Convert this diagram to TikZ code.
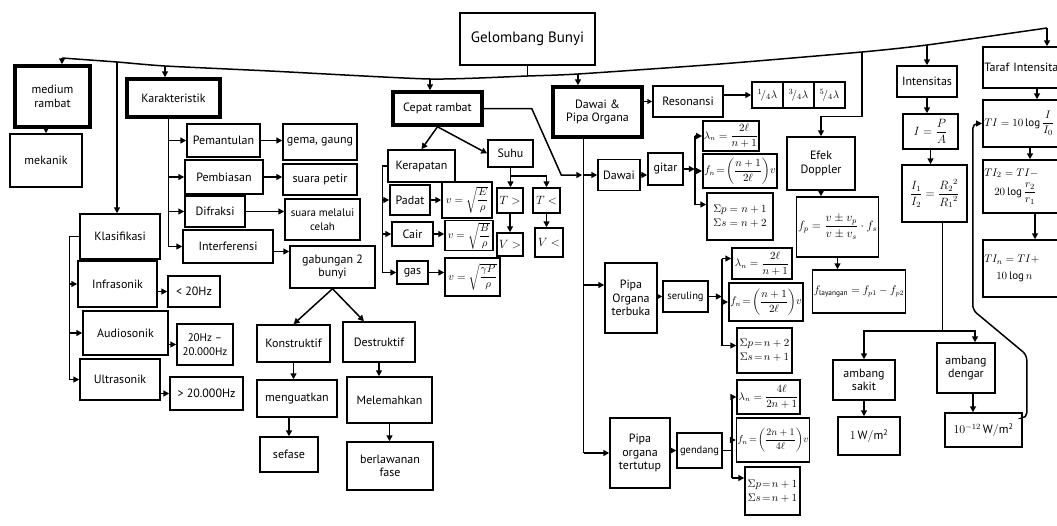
\documentclass[tikz,border=0pt]{standalone}
\usepackage{amsmath}
\usepackage{fontspec}
\setmainfont{PT Sans}
\usetikzlibrary{arrows.meta,calc}
\begin{document}
\begin{tikzpicture}[x=1pt,y=-1pt,
  box/.style={draw, line width=1.5pt, inner sep=1.5pt, align=center, font=\fontsize{12}{13.5}\selectfont},
  tbox/.style={box, line width=3.5pt},
  mbox/.style={box, font=\fontsize{11}{14}\selectfont},
  sbox/.style={box, font=\fontsize{10.5}{13}\selectfont},
  lbox/.style={mbox, anchor=west, text width=86, align=left},
  line/.style={line width=1.5pt},
  arr/.style={line width=1.5pt, -{Triangle[length=6pt,width=6pt]}},
  oarr/.style={line width=1.5pt, -{Triangle[open,length=5pt,width=5pt]}}
]
\useasboundingbox (0,0) rectangle (1057,525);
\fill[white] (0,0) rectangle (1057,525);
\clip (0,0) rectangle (1057,525);

% ---------- nodes ----------
\node[box, minimum width=135, minimum height=52, font=\fontsize{15}{17}\selectfont] (gb) at (527.5,39) {Gelombang Bunyi};

\node[tbox, minimum width=75, minimum height=61] (medium) at (52.5,96.5) {medium\\rambat};
\node[box, minimum width=72, minimum height=53] (mekanik) at (46,160.5) {mekanik};

\node[tbox, minimum width=93, minimum height=38] (karak) at (173.5,98) {Karakteristik};
\node[box, minimum width=73, minimum height=33] (pemantulan) at (223.5,140.5) {Pemantulan};
\node[box, minimum width=78, minimum height=34] (pembiasan) at (224,177) {Pembiasan};
\node[box, minimum width=60, minimum height=31] (difraksi) at (215,211.5) {Difraksi};
\node[box, minimum width=90, minimum height=33] (interf) at (228,246.5) {Interferensi};
\node[box, minimum width=74, minimum height=36] (gema) at (320,142) {gema, gaung};
\node[box, minimum width=74, minimum height=31] (petir) at (320,179.5) {suara petir};
\node[mbox, minimum width=75, minimum height=41] (celah) at (322.5,219.5) {suara melalui\\celah};
\node[box, minimum width=85, minimum height=42] (gabungan) at (332.5,267) {gabungan 2\\bunyi};
\node[box, minimum width=73, minimum height=37] (konstruktif) at (293.5,343.5) {Konstruktif};
\node[box, minimum width=72, minimum height=40] (destruktif) at (379,342) {Destruktif};
\node[box, minimum width=80, minimum height=37] (menguatkan) at (297,398.5) {menguatkan};
\node[box, minimum width=85, minimum height=46] (melemahkan) at (389.5,400) {Melemahkan};
\node[box, minimum width=58, minimum height=35] (sefase) at (289,454.5) {sefase};
\node[box, minimum width=86, minimum height=48] (berlawanan) at (390,466) {berlawanan\\fase};

\node[box, minimum width=80, minimum height=45] (klas) at (120,236.5) {Klasifikasi};
\node[box, minimum width=79, minimum height=46] (infra) at (117.5,284) {Infrasonik};
\node[box, minimum width=85, minimum height=44] (audio) at (125.5,333) {Audiosonik};
\node[box, minimum width=80, minimum height=41] (ultra) at (120,379.5) {Ultrasonik};
\node[box, minimum width=52, minimum height=31] (lt) at (194,291.5) {< 20Hz};
\node[mbox, minimum width=56, minimum height=41] (aud) at (205,344.5) {20Hz --\\20.000Hz};
\node[box, minimum width=73, minimum height=33] (gt) at (206.5,393.5) {> 20.000Hz};

\node[tbox, minimum width=89, minimum height=33] (cepat) at (437.5,108.5) {Cepat rambat};
\node[box, minimum width=67, minimum height=32] (kerapatan) at (421.5,166) {Kerapatan};
\node[box, minimum width=45, minimum height=27] (suhu) at (510.5,153.5) {Suhu};
\node[box, minimum width=40, minimum height=30] (padat) at (410,200) {Padat};
\node[box, minimum width=41, minimum height=24] (cair) at (412.5,234) {Cair};
\node[box, minimum width=31, minimum height=23] (gas) at (412.5,272.5) {gas};
\node[mbox, minimum width=50, minimum height=36] (vpadat) at (467,200) {$v=\sqrt{\dfrac{E}{\rho}}$};
\node[mbox, minimum width=48, minimum height=29] (vcair) at (469,235.5) {$v=\sqrt{\dfrac{B}{\rho}}$};
\node[mbox, minimum width=55, minimum height=38] (vgas) at (472.5,277) {$v=\sqrt{\dfrac{\gamma P}{\rho}}$};
\node[box, minimum width=26, minimum height=25] (tgt) at (510,200.5) {$T>$};
\node[box, minimum width=27, minimum height=25] (tlt) at (546.5,200.5) {$T<$};
\node[box, minimum width=26, minimum height=23] (vgt) at (510,244.5) {$V>$};
\node[box, minimum width=28, minimum height=29] (vlt) at (549,242.5) {$V<$};

\node[tbox, minimum width=89, minimum height=50] (dpo) at (597.5,112) {Dawai \&\\Pipa Organa};
\node[box, minimum width=70, minimum height=31] (reson) at (688,101.5) {Resonansi};
\node[mbox, minimum width=31, minimum height=26, inner sep=0pt] (q1) at (767.5,95) {$^{1}\!/_{4}\lambda$};
\node[mbox, minimum width=31, minimum height=26, inner sep=0pt] (q2) at (798.5,95) {$^{3}\!/_{4}\lambda$};
\node[mbox, minimum width=31, minimum height=26, inner sep=0pt] (q3) at (829.5,95) {$^{5}\!/_{4}\lambda$};

\node[box, minimum width=42, minimum height=31] (dawai) at (619,175) {Dawai};
\node[box, minimum width=35, minimum height=32] (gitar) at (665.5,169) {gitar};
\node[sbox, minimum width=52, minimum height=30, inner sep=1pt] (dl1) at (731,136) {$\lambda_n=\dfrac{2\ell}{n+1}$};
\node[sbox, minimum width=66, minimum height=34] (df1) at (740,171) {$f_n\!=\!\left(\dfrac{n+1}{2\ell}\right)\!v$};
\node[mbox, minimum width=66, minimum height=47] (ds1) at (740,216.5) {$\Sigma p=n+1$\\$\Sigma s=n+2$};

\node[box, minimum width=52, minimum height=70] (pot) at (631,298) {Pipa\\Organa\\terbuka};
\node[sbox, minimum width=45, minimum height=31] (seruling) at (685.5,296.5) {seruling};
\node[sbox, minimum width=60, minimum height=31] (ol) at (762,263.5) {$\lambda_n=\dfrac{2\ell}{n+1}$};
\node[sbox, minimum width=62, minimum height=38] (of) at (766,302) {$f_n\!=\!\left(\dfrac{n+1}{2\ell}\right)\!v$};
\node[mbox, minimum width=55, minimum height=45, inner sep=1pt] (os) at (764.5,350.5) {$\Sigma p\!=\!n+2$\\$\Sigma s\!=\!n+1$};

\node[box, minimum width=60, minimum height=70] (pott) at (640,453) {Pipa\\organa\\tertutup};
\node[sbox, minimum width=45, minimum height=35] (gendang) at (699.5,450.5) {gendang};
\node[sbox, minimum width=57, minimum height=34] (tl) at (768.5,397) {$\lambda_n=\dfrac{4\ell}{2n+1}$};
\node[box, minimum width=64, minimum height=44, inner sep=1pt, font=\fontsize{10}{12}\selectfont] (tf) at (773,440) {$f_n\!=\!\left(\dfrac{2n+1}{4\ell}\right)\!v$};
\node[mbox, minimum width=55, minimum height=48, inner sep=1pt] (ts) at (772.5,491) {$\Sigma p\!=\!n+1$\\$\Sigma s\!=\!n+1$};

\node[box, minimum width=68, minimum height=53] (efek) at (821,163.5) {Efek\\Doppler};
\node[box, minimum width=81, minimum height=60] (fp) at (837.5,227) {$f_p=\dfrac{v\pm v_p}{v\pm v_s}\cdot f_s$};
\node[sbox, minimum width=92, minimum height=43] (flay) at (859,291.5) {$f_{\mathrm{layangan}}=f_{p1}-f_{p2}$};

\node[box, minimum width=60, minimum height=31] (intens) at (927,81.5) {Intensitas};
\node[box, minimum width=55, minimum height=35] (ipa) at (930.5,131.5) {$I=\dfrac{P}{A}$};
\node[box, minimum width=65, minimum height=57] (irr) at (934.5,193.5) {$\dfrac{I_1}{I_2}=\dfrac{{R_2}^2}{{R_1}^2}$};
\node[box, minimum width=62, minimum height=40] (sakit) at (864,380) {ambang\\sakit};
\node[box, minimum width=58, minimum height=50] (dengar) at (966,368) {ambang\\dengar};
\node[box, minimum width=62, minimum height=38] (onew) at (869,436) {$1\,\mathrm{W/m^2}$};
\node[box, minimum width=77, minimum height=34] (tenpow) at (983.5,430) {$10^{-12}\,\mathrm{W/m^2}$};

\node[lbox, minimum height=41, font=\fontsize{12}{13.5}\selectfont] (taraf) at (982,67.5) {Taraf Intensitas};
\node[lbox, minimum height=47] (ti) at (982,123.5) {$TI=10\log\dfrac{I}{I_0}$};
\node[lbox, minimum height=53] (ti2) at (982,186.5) {$TI_2=TI-$\\[5pt]\hspace*{10pt}$20\log\dfrac{r_2}{r_1}$};
\node[lbox, minimum height=57] (tin) at (982,268.5) {$TI_n=TI+$\\[3pt]\hspace*{12pt}$10\log n$};

% ---------- main bus ----------
\coordinate (bM) at (62,58);
\coordinate (bK2) at (117,62);
\coordinate (bK) at (165,66);
\coordinate (bX) at (270,71);
\coordinate (bC) at (430,79);
\coordinate (bG) at (527.5,76);
\coordinate (bD) at (578,74);
\coordinate (bY) at (720,64);
\coordinate (bE) at (862,52);
\coordinate (bI) at (927,45);
\coordinate (bT) at (1047,28);
\draw[line] plot[smooth, tension=0.35] coordinates {(bM) (bK2) (bK) (bX) (bC) (bG) (bD) (bY) (bE) (bI) (bT)};
\draw[line] (gb.south) -- (bG);

\draw[arr] (bM) -- (bM |- medium.north);
\draw[arr] (bK2) -- (bK2 |- klas.north);
\draw[arr] (bK) -- (bK |- karak.north);
\draw[arr] (bC) -- (bC |- cepat.north);
\draw[arr] (bD) -- (bD |- dpo.north);
\draw[arr] (bE) |- ($(efek.north)+(0,-20)$) -- (efek.north);
\draw[arr] (bI) -- (bI |- intens.north);
\draw[arr] (bT) -- (bT |- taraf.north);

% ---------- medium ----------
\draw[arr] (mekanik.north |- medium.south) -- (mekanik.north);

% ---------- karakteristik ----------
\coordinate (kv) at ($(karak.south)+(-5,0)$);
\draw[line] (kv) -- (kv |- interf.west);
\draw[arr] (kv |- pemantulan.west) -- (pemantulan.west);
\draw[arr] (kv |- pembiasan.west) -- (pembiasan.west);
\draw[arr] (kv |- difraksi.west) -- (difraksi.west);
\draw[arr] (kv |- interf.west) -- (interf.west);
\draw[arr] (pemantulan.east) -- (gema.west |- pemantulan.east);
\draw[arr] (pembiasan.east) -- (petir.west |- pembiasan.east);
\draw[arr] (difraksi.east) -- (celah.west |- difraksi.east);
\draw[arr] ($(interf.east)+(0,5)$) coordinate (ie) -- (ie -| gabungan.west);
\draw[arr] (gabungan.south) -- (konstruktif.north);
\draw[arr] (gabungan.south) -- ($(destruktif.north)+(-15,0)$);
\draw[arr] (konstruktif.south) -- (konstruktif.south |- menguatkan.north);
\draw[arr] (destruktif.south) -- (destruktif.south |- melemahkan.north);
\draw[arr] (sefase.north |- menguatkan.south) -- (sefase.north);
\draw[arr] (melemahkan.south) -- (melemahkan.south |- berlawanan.north);

% ---------- klasifikasi ----------
\draw[line] (klas.west) -- ++(-10,0) coordinate (kl) -- (kl |- ultra.west);
\draw[arr] (kl |- infra.west) -- (infra.west);
\draw[arr] (kl |- audio.west) -- (audio.west);
\draw[arr] (kl |- ultra.west) -- (ultra.west);
\draw[arr] (infra.east |- lt.west) -- (lt.west);
\draw[arr] (audio.east |- aud.west) -- (aud.west);
\draw[arr] (ultra.east |- gt.west) -- (gt.west);

% ---------- cepat rambat ----------
\draw[arr] (cepat.south) -- (kerapatan.north);
\draw[arr] (cepat.south) -- (suhu.west);
\draw[line] (kerapatan.west) -- ++(-5,0) coordinate (kr) -- (kr |- gas.west);
\draw[arr] (kr |- padat.west) -- (padat.west);
\draw[arr] (kr |- cair.west) -- (cair.west);
\draw[arr] (kr |- gas.west) -- (gas.west);
\draw[arr] (padat.east) -- (vpadat.west |- padat.east);
\draw[arr] (cair.east) -- (vcair.west |- cair.east);
\draw[arr] (gas.east) -- (vgas.west |- gas.east);
\draw[arr] (suhu.south) -- (suhu.south |- tgt.north);
\draw[arr] ($(suhu.south)+(0,8)$) -| (tlt.north);
\draw[arr] (tgt.south) -- (tgt.south |- vgt.north);
\draw[arr] (tlt.south) -- (tlt.south |- vlt.north);

% ---------- dawai & pipa organa ----------
\coordinate (dv) at ($(dpo.south)+(-14,0)$);
\draw[line] (dv) -- (dv |- pott.west);
\draw[arr] (cepat.east) -- ++(48,0) -- ($(dawai.west)+(-36,0)$) -- ($(dawai.west)+(-15,0)$);
\draw[arr] (dv |- dawai.west) -- (dawai.west);
\draw[arr] ($(dv |- pot.west)+(0,-13)$) -- ($(pot.west)+(0,-13)$);
\draw[arr] (dv |- pott.west) -- (pott.west);
\draw[oarr] (dpo.east |- reson.west) -- (reson.west);
\draw[arr] (reson.east |- q1.west) -- (q1.west);

\draw[arr] (dawai.east) -- (gitar.west |- dawai.east);
\draw[arr] (gitar.east) -- ++(11,0) coordinate (gv);
\draw[line] (gv |- dl1.west) -- ($(gv |- ds1.west)+(0,-12)$);
\draw[arr] (gv |- dl1.west) -- (dl1.west);
\draw[arr] (gv |- df1.west) -- (df1.west);
\draw[arr] ($(gv |- ds1.west)+(0,-12)$) -- ($(ds1.west)+(0,-12)$);

\draw[oarr] (pot.east |- seruling.west) -- (seruling.west);
\draw[arr] (seruling.east) -- ++(13,0) coordinate (sv);
\draw[line] ($(sv |- ol.west)+(0,-5)$) -- ($(sv |- os.west)+(0,-5)$);
\draw[arr] ($(sv |- ol.west)+(0,-5)$) -- ($(ol.west)+(0,-5)$);
\draw[arr] (sv |- of.west) -- (of.west);
\draw[arr] ($(sv |- os.west)+(0,-5)$) -- ($(os.west)+(0,-5)$);

\draw[arr] (pott.east |- gendang.west) -- (gendang.west);
\draw[line] (gendang.east) -- ++(9,0) coordinate (gdv);
\draw[line] (gdv |- tl.west) -- ($(gdv |- ts.west)+(0,-13)$);
\draw[arr] (gdv |- tl.west) -- (tl.west);
\draw[arr] (gdv |- tf.west) -- (tf.west);
\draw[arr] ($(gdv |- ts.west)+(0,-13)$) -- ($(ts.west)+(0,-13)$);

% ---------- efek doppler ----------
\draw[arr] (efek.south) -- (efek.south |- fp.north);
\draw[arr] (fp.south) -- (fp.south |- flay.north);

% ---------- intensitas ----------
\draw[arr] (intens.south) -- (intens.south |- ipa.north);
\draw[arr] (ipa.south) -- (ipa.south |- irr.north);
\coordinate (ij) at ($(irr.south)+(8,108)$);
\draw[line] ($(irr.south)+(8,0)$) -- (ij);
\draw[arr] (ij) -| (sakit.north);
\draw[arr] (ij) -| ($(dengar.north)+(9,0)$);
\draw[arr] (sakit.south) -- (sakit.south |- onew.north);
\draw[arr] ($(dengar.south)+(7,0)$) coordinate (dd) -- (dd |- tenpow.north);
\draw[arr, rounded corners=5pt] ($(tenpow.east)+(0,-12)$) -- ++(4,0) -- ++(0,-63) -- ++(-54,-45) |- (ti.west);

% ---------- taraf intensitas ----------
\draw[arr] ($(taraf.south west)+(55,0)$) coordinate (t1) -- (t1 |- ti.north);
\draw[arr] ($(ti.south west)+(48,0)$) coordinate (t2) -- (t2 |- ti2.north);
\draw[arr] ($(ti2.south west)+(53,0)$) coordinate (t3) -- (t3 |- tin.north);
\end{tikzpicture}
\end{document}
